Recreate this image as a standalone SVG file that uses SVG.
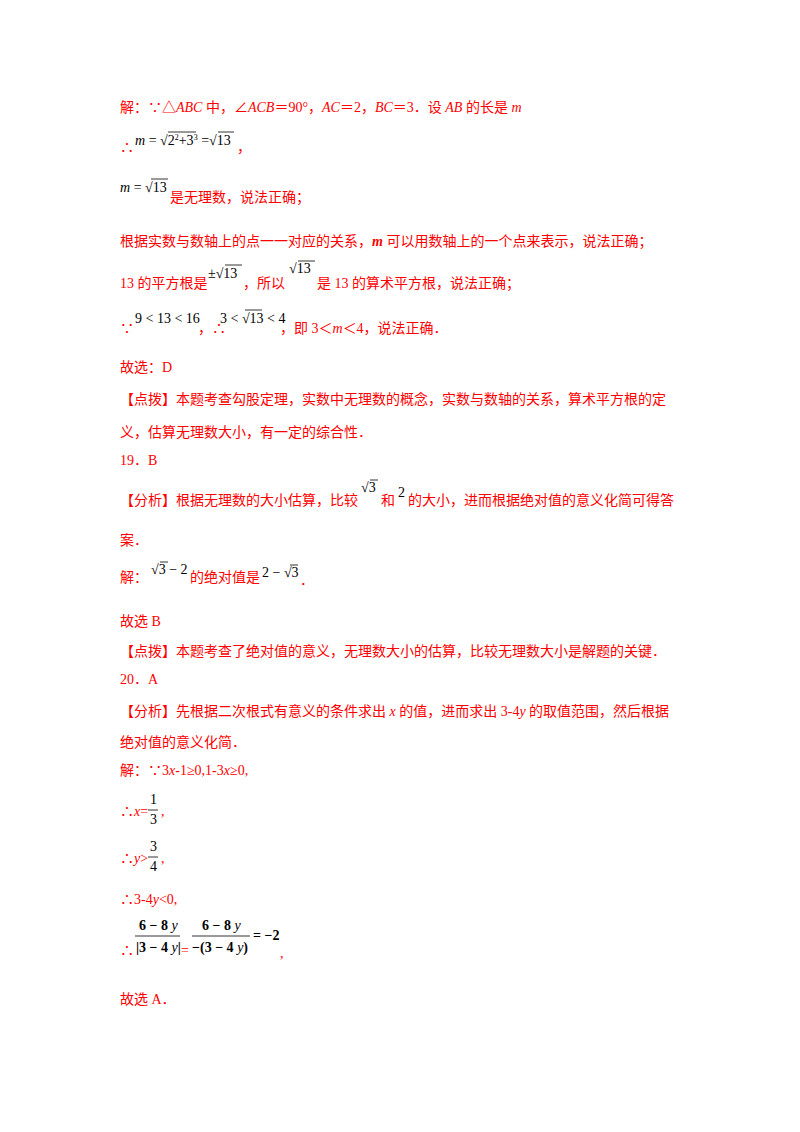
<svg xmlns="http://www.w3.org/2000/svg" width="800" height="1132" viewBox="0 0 800 1132">
<style>
.r{fill:#ff0000;font-family:"Liberation Serif","Noto Sans CJK SC",serif;font-size:14px}
.m{fill:#000;font-family:"Liberation Serif",serif;font-size:14px}
.b{font-weight:bold}
.i{font-style:italic}
.l{stroke:#000;stroke-width:0.8;fill:none}
</style>
<rect width="800" height="1132" fill="#fff"/>
<text class="r" x="120" y="112">解：∵△<tspan class="i">ABC</tspan> 中，∠<tspan class="i">ACB</tspan>＝90°，<tspan class="i">AC</tspan>＝2，<tspan class="i">BC</tspan>＝3．设 <tspan class="i">AB</tspan> 的长是 <tspan class="i">m</tspan></text>
<text class="r" x="120" y="152">∴</text>
<text class="m" x="135" y="145"><tspan class="i">m</tspan> = √2<tspan font-size="8" dy="-5">2</tspan><tspan dy="5">+3</tspan><tspan font-size="8" dy="-5">3</tspan><tspan dy="5"> =√13</tspan></text>
<path class="l" d="M168 132H196M218 132H234"/>
<text class="r" x="237" y="152">，</text>
<text class="m" x="120" y="192"><tspan class="i">m</tspan> = √13</text>
<path class="l" d="M151 179H168"/>
<text class="r" x="170" y="202">是无理数，说法正确；</text>
<text class="r" x="120" y="246">根据实数与数轴上的点一一对应的关系，<tspan class="i b">m</tspan> 可以用数轴上的一个点来表示，说法正确；</text>
<text class="r" x="120" y="288">13 的平方根是</text>
<text class="m" x="208" y="278">±√13</text>
<path class="l" d="M225 265H242"/>
<text class="r" x="243" y="288">，所以</text>
<text class="m" x="289" y="273">√13</text>
<path class="l" d="M298 261H315"/>
<text class="r" x="317" y="288">是 13 的算术平方根，说法正确；</text>
<text class="r" x="120" y="333">∵</text>
<text class="m" x="135" y="323">9 &lt; 13 &lt; 16</text>
<text class="r" x="198" y="333">，∴</text>
<text class="m" x="220" y="323">3 &lt; √13 &lt; 4</text>
<path class="l" d="M245 310H262"/>
<text class="r" x="280" y="333">，即 3＜<tspan class="i">m</tspan>＜4，说法正确．</text>
<text class="r" x="120" y="372">故选：D</text>
<text class="r" x="120" y="404">【点拨】本题考查勾股定理，实数中无理数的概念，实数与数轴的关系，算术平方根的定</text>
<text class="r" x="120" y="437">义，估算无理数大小，有一定的综合性．</text>
<text class="r" x="120" y="465">19．B</text>
<text class="r" x="120" y="505">【分析】根据无理数的大小估算，比较</text>
<text class="m" x="361" y="492">√3</text>
<path class="l" d="M370 480H378"/>
<text class="r" x="381" y="505">和</text>
<text class="m" x="398" y="497">2</text>
<text class="r" x="408" y="505">的大小，进而根据绝对值的意义化简可得答</text>
<text class="r" x="120" y="545">案．</text>
<text class="r" x="120" y="582">解：</text>
<text class="m" x="151" y="574">√3 − 2</text>
<path class="l" d="M160 562H168"/>
<text class="r" x="190" y="582">的绝对值是</text>
<text class="m" x="262" y="577">2 − √3</text>
<path class="l" d="M290 565H298"/>
<text class="r" x="300" y="585">．</text>
<text class="r" x="120" y="626">故选 B</text>
<text class="r" x="120" y="656">【点拨】本题考查了绝对值的意义，无理数大小的估算，比较无理数大小是解题的关键．</text>
<text class="r" x="120" y="684">20．A</text>
<text class="r" x="120" y="716">【分析】先根据二次根式有意义的条件求出 <tspan class="i">x</tspan> 的值，进而求出 3-4<tspan class="i">y</tspan> 的取值范围，然后根据</text>
<text class="r" x="120" y="747">绝对值的意义化简．</text>
<text class="r" x="120" y="775">解：∵3<tspan class="i">x</tspan>-1≥0,1-3<tspan class="i">x</tspan>≥0,</text>
<text class="r" x="120" y="816">∴<tspan class="i">x</tspan>=</text>
<text class="m" x="150" y="804">1</text>
<path class="l" d="M148 810H158"/>
<text class="m" x="150" y="824">3</text>
<text class="r" x="161" y="816">,</text>
<text class="r" x="120" y="863">∴<tspan class="i">y</tspan>&gt;</text>
<text class="m" x="150" y="851">3</text>
<path class="l" d="M148 857H158"/>
<text class="m" x="150" y="871">4</text>
<text class="r" x="161" y="863">,</text>
<text class="r" x="120" y="904">∴3-4<tspan class="i">y</tspan>&lt;0,</text>
<text class="r" x="120" y="955">∴</text>
<text class="m b" x="139" y="930">6 − 8<tspan class="i" font-weight="normal"> y</tspan></text>
<path class="l" d="M135 936H180"/>
<text class="m b" x="136" y="952">|3 − 4<tspan class="i" font-weight="normal"> y</tspan>|</text>
<text class="r" x="181" y="955">=</text>
<text class="m b" x="202" y="930">6 − 8<tspan class="i" font-weight="normal"> y</tspan></text>
<path class="l" d="M192 936H250"/>
<text class="m b" x="192" y="952">−(3 − 4<tspan class="i" font-weight="normal"> y</tspan>)</text>
<text class="m b" x="253" y="940">= −2</text>
<text class="r" x="280" y="958">,</text>
<text class="r" x="120" y="1004">故选 A．</text>
</svg>
